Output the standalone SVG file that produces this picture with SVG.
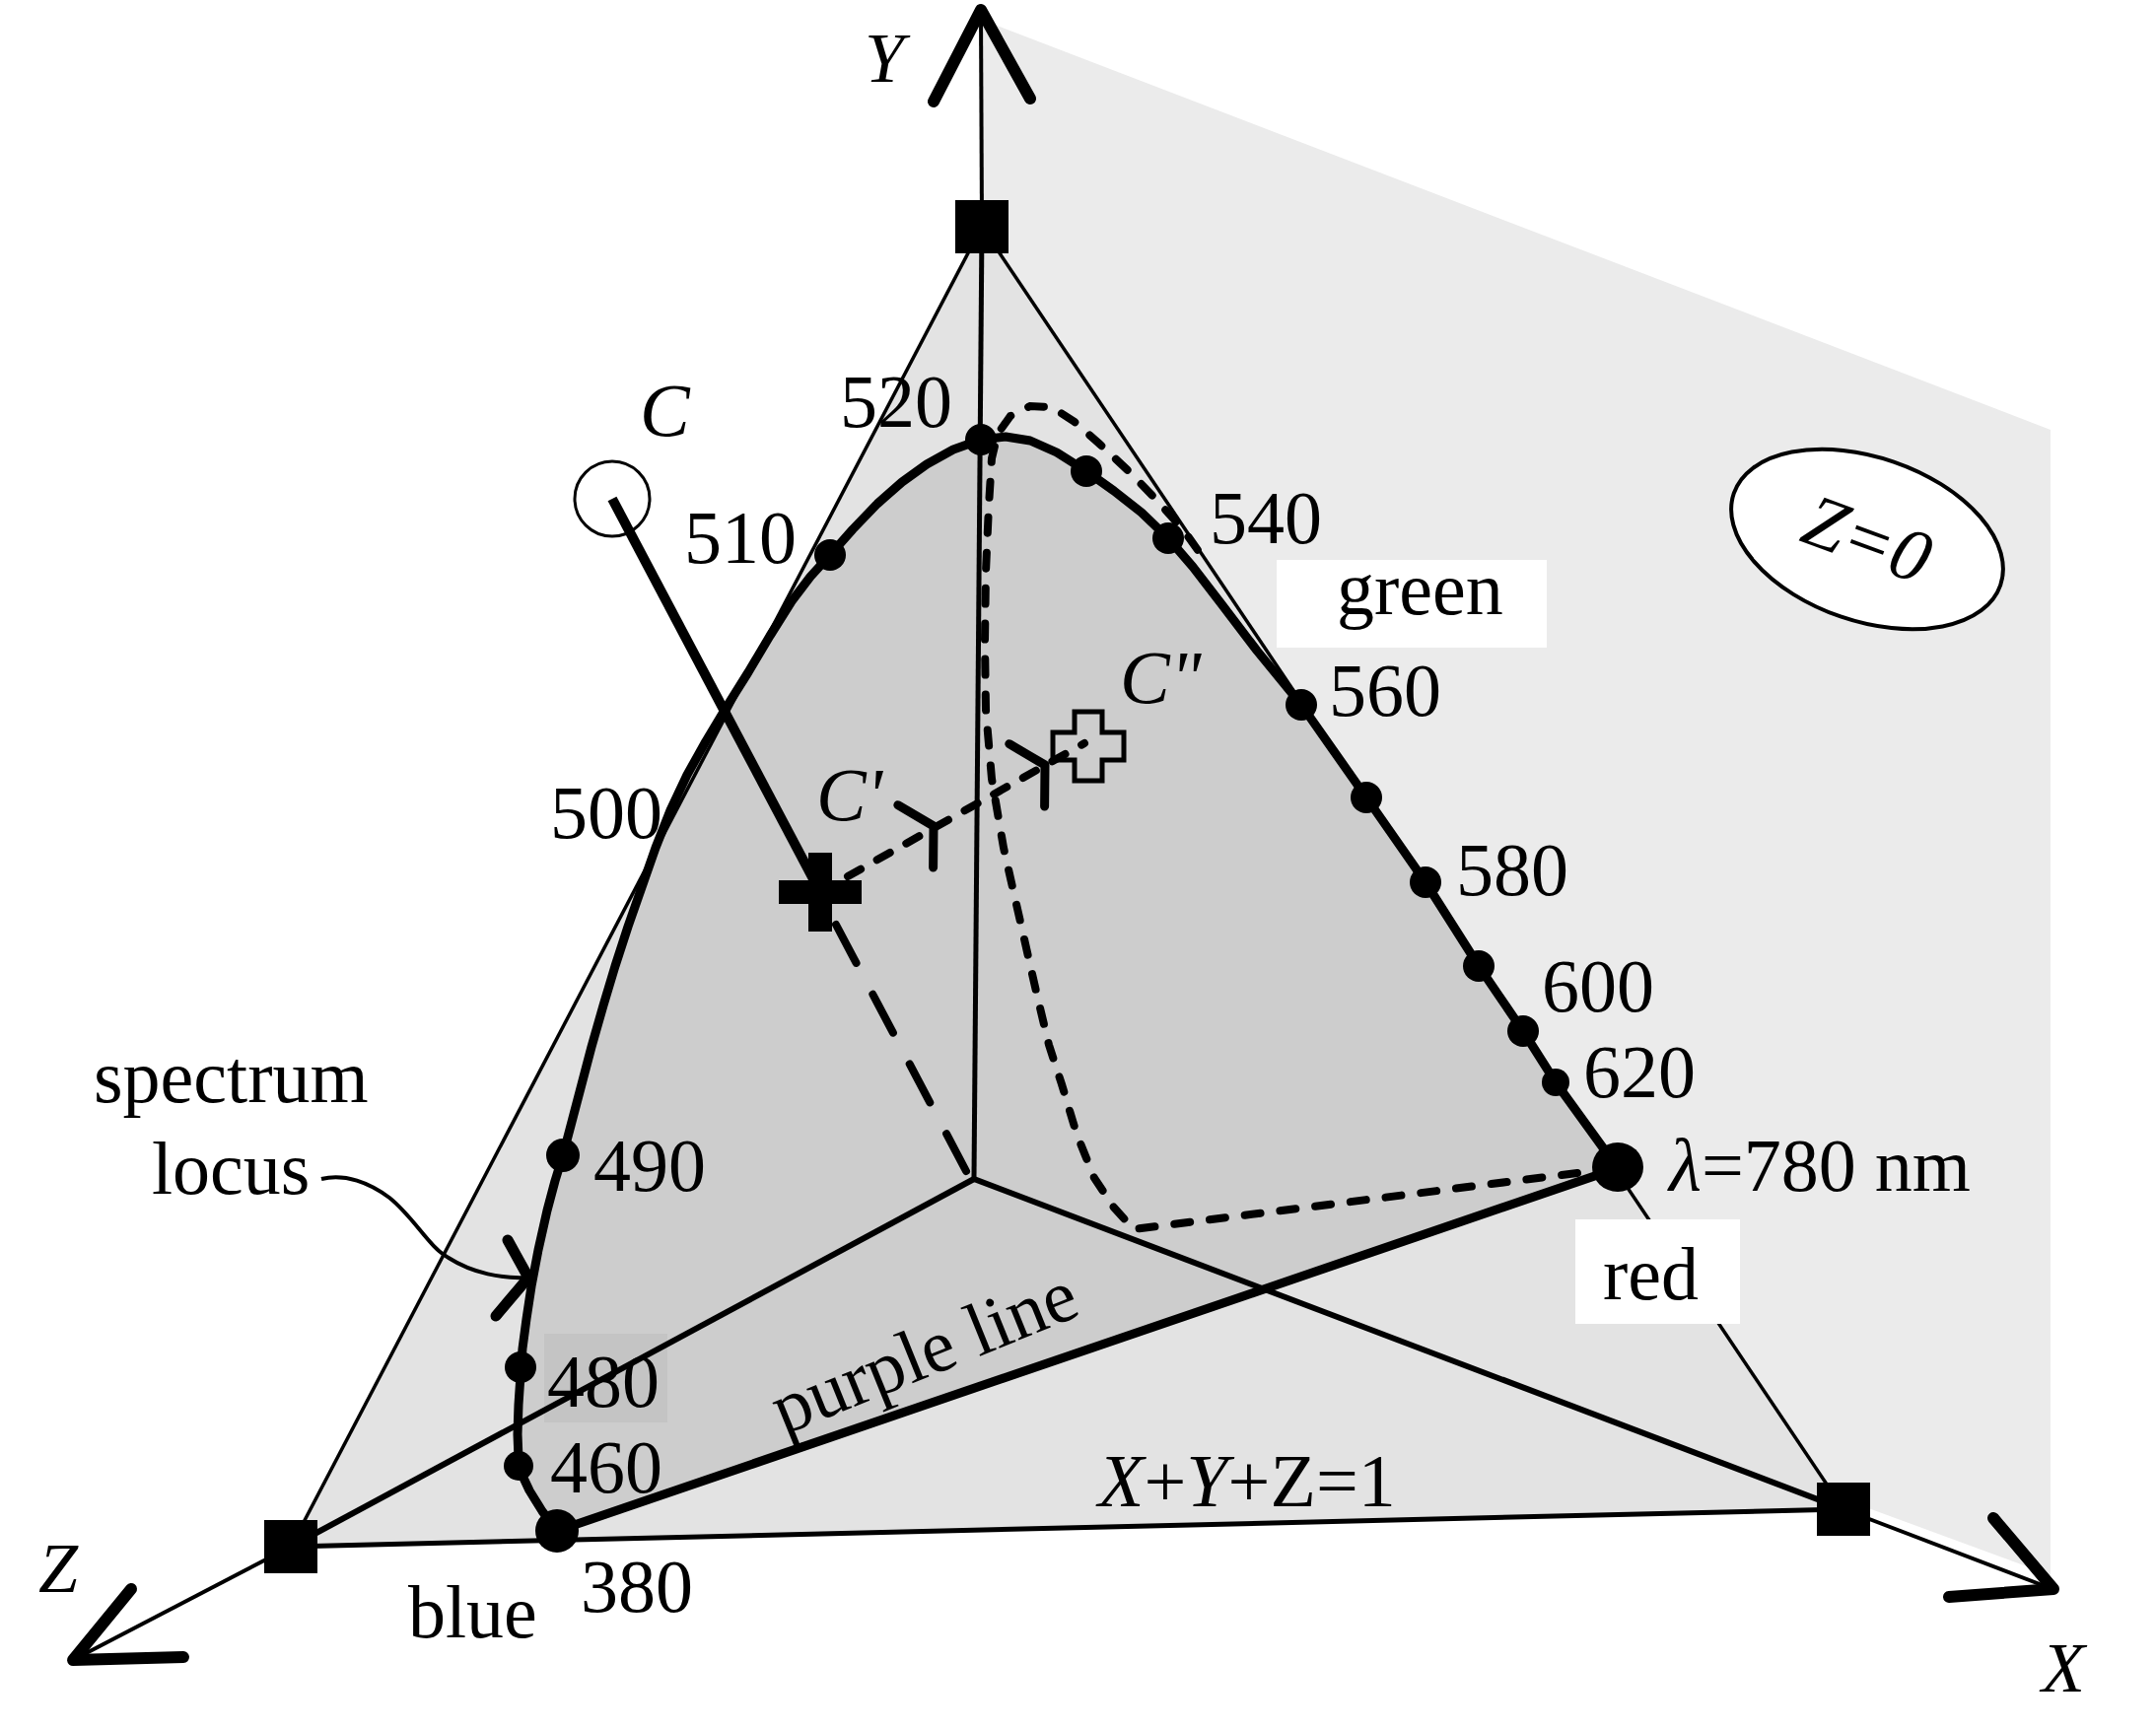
<svg xmlns="http://www.w3.org/2000/svg" width="2187" height="1755" viewBox="0 0 2187 1755">
<defs>
<style>
.t{font-family:"Liberation Serif","Times New Roman",serif;font-size:76px;fill:#000}
.i{font-style:italic}
.edge{stroke:#000;stroke-width:3.5;fill:none}
.axis{stroke:#000;stroke-width:6;fill:none}
.axext{stroke:#000;stroke-width:4;fill:none}
.head{stroke:#000;stroke-width:12;fill:none;stroke-linecap:round;stroke-linejoin:round}
.locus{stroke:#000;stroke-width:9;fill:none;stroke-linejoin:round;stroke-linecap:round}
.dash-s{stroke:#000;stroke-width:8;fill:none;stroke-dasharray:16 20;stroke-linecap:round}
.dash-m{stroke:#000;stroke-width:8;fill:none;stroke-dasharray:15 19;stroke-linecap:round}
.dash-l{stroke:#000;stroke-width:8;fill:none;stroke-dasharray:44 36;stroke-linecap:round}
.chev{stroke:#000;stroke-width:9;fill:none;stroke-linecap:round;stroke-linejoin:round}
.dot{fill:#000}
.sq{fill:#000}
</style>
</defs>
<rect width="2187" height="1755" fill="#fff"/>

<g id="plane-z0">
<polygon points="996,20 2080,436 2080,1598 988,1196" fill="#ebebeb"/>
</g>
<g id="plane-xyz1">
<polygon points="996,230 295,1569 1870,1531" fill="#e3e3e3"/>
</g>
<g id="locus-region">
<path d="M565,1553 L550,1533 537,1512 529,1495 526,1480 525,1455 526,1425 528,1395 530,1368 534,1338 539,1305 546,1268 555,1228 563,1198 571,1172 580,1138 590,1100 600,1062 612,1020 624,980 637,940 651,900 665,860 680,822 697,786 716,752 737,717 759,682 781,645 803,610 822,585 842,563 865,537 890,511 915,489 940,471 967,456 995,446 1020,443 1045,447 1072,459 1102,478 1130,498 1158,520 1185,546 1210,575 1240,614 1275,660 1320,715 1386,809 1446,895 1500,980 1545,1046 1578,1098 1641,1185 Z" fill="#cdcdcd"/>
<rect x="552" y="1353" width="125" height="90" fill="#c4c4c4"/>
</g>

<g id="connectors">
<line class="edge" x1="996" y1="230" x2="295" y2="1569"/>
<line class="edge" x1="996" y1="230" x2="1870" y2="1531"/>
<line class="edge" x1="295" y1="1569" x2="1870" y2="1531" style="stroke-width:5"/>
<line class="axis" x1="988" y1="1196" x2="996" y2="230" style="stroke-width:5"/>
<line class="axext" x1="996" y1="230" x2="995" y2="12"/>
<line class="axis" x1="988" y1="1196" x2="295" y2="1569"/>
<line class="axext" x1="295" y1="1569" x2="76" y2="1683"/>
<line class="axis" x1="988" y1="1196" x2="1870" y2="1531"/>
<line class="axext" x1="1870" y1="1531" x2="2082" y2="1612"/>
<polyline class="head" points="947,103 995,10 1045,100"/>
<polyline class="head" points="133,1612 74,1684 186,1681"/>
<polyline class="head" points="2022,1540 2083,1612 1977,1620"/>

<polyline class="dash-s" points="1600,1190 1150,1247 1130,1225 1110,1195 1092,1150 1077,1100 1064,1060 1052,1010 1035,935 1018,860 1006,790 1000,720 999,650 1000,580 1003,513 1006,465 1012,440 1025,422 1045,412 1067,413 1090,428 1115,450 1145,478 1173,507 1200,537 1220,565"/>

<line class="dash-l" x1="848" y1="938" x2="980" y2="1188"/>
<line x1="621" y1="506" x2="832" y2="905" stroke="#000" stroke-width="10"/>
<line class="dash-m" x1="860" y1="889" x2="1100" y2="754"/>
<polyline class="chev" points="946.6,880 947,838 910.8,816.7"/>
<polyline class="chev" points="1059.6,818 1060,776 1023.8,754.7"/>

<path d="M326,1196 C350,1190 375,1200 395,1215 C420,1235 435,1265 455,1276 C480,1292 510,1297 533,1296" stroke="#000" stroke-width="4" fill="none"/>
<polyline class="head" points="515,1258 536,1296 503,1335" style="stroke-width:11"/>

<polyline class="locus" points="565,1553 550,1533 537,1512 529,1495 526,1480 525,1455 526,1425 528,1395 530,1368 534,1338 539,1305 546,1268 555,1228 563,1198 571,1172 580,1138 590,1100 600,1062 612,1020 624,980 637,940 651,900 665,860 680,822 697,786 716,752 737,717 759,682 781,645 803,610 822,585 842,563 865,537 890,511 915,489 940,471 967,456 995,446 1020,443 1045,447 1072,459 1102,478 1130,498 1158,520 1185,546 1210,575 1240,614 1275,660 1320,715 1386,809 1446,895 1500,980 1545,1046 1578,1098 1641,1185"/>
<line x1="565" y1="1553" x2="1641" y2="1185" stroke="#000" stroke-width="9"/>
</g>

<g id="axis-markers">
<rect class="sq" x="969" y="203" width="54" height="54"/>
<rect class="sq" x="268" y="1542" width="54" height="54"/>
<rect class="sq" x="1843" y="1504" width="54" height="54"/>
</g>

<g id="locus-points">
<circle class="dot" cx="565" cy="1553" r="22"/>
<circle class="dot" cx="526" cy="1487" r="15"/>
<circle class="dot" cx="528" cy="1387" r="16"/>
<circle class="dot" cx="571" cy="1172" r="17"/>
<circle class="dot" cx="842" cy="563" r="16"/>
<circle class="dot" cx="995" cy="446" r="16"/>
<circle class="dot" cx="1102" cy="478" r="16"/>
<circle class="dot" cx="1185" cy="546" r="16"/>
<circle class="dot" cx="1320" cy="715" r="16"/>
<circle class="dot" cx="1386" cy="809" r="16"/>
<circle class="dot" cx="1446" cy="895" r="16"/>
<circle class="dot" cx="1500" cy="980" r="16"/>
<circle class="dot" cx="1545" cy="1046" r="16"/>
<circle class="dot" cx="1578" cy="1098" r="14"/>
<ellipse class="dot" cx="1641" cy="1184" rx="26" ry="25"/>
</g>

<g id="point-C">
<circle cx="621" cy="506" r="38" stroke="#000" stroke-width="3" fill="none"/>
<text class="t i" x="649" y="442">C</text>
</g>
<g id="point-C1">
<rect x="790" y="893" width="84" height="24" fill="#000"/>
<rect x="820" y="865" width="24" height="80" fill="#000"/>
<text class="t i" x="828" y="832">C'</text>
</g>
<g id="point-C2">
<path d="M1090,722 H1118 V743 H1140 V771 H1118 V792 H1090 V771 H1068 V743 H1090 Z" stroke="#000" stroke-width="5" fill="none"/>
<text class="t i" x="1136" y="713">C"</text>
</g>

<g id="z0-label">
<ellipse cx="1894" cy="547" rx="143" ry="83" transform="rotate(19 1894 547)" fill="#fff" stroke="#000" stroke-width="4"/>
<text class="t i" x="1894" y="572" text-anchor="middle" transform="rotate(20 1894 547)">Z=0</text>
</g>

<g id="color-labels">
<rect x="1295" y="568" width="274" height="89" fill="#fff"/>
<text class="t" x="1356" y="623">green</text>
<rect x="1598" y="1237" width="167" height="106" fill="#fff"/>
<text class="t" x="1626" y="1318">red</text>
<text class="t" x="414" y="1661">blue</text>
</g>

<g id="labels">
<text class="t i" x="877" y="83" style="font-size:72px">Y</text>
<text class="t i" x="39" y="1615" style="font-size:72px">Z</text>
<text class="t i" x="2071" y="1716" style="font-size:72px">X</text>
<text class="t" x="852" y="433">520</text>
<text class="t" x="694" y="571">510</text>
<text class="t" x="1227" y="551">540</text>
<text class="t" x="1348" y="726">560</text>
<text class="t" x="558" y="850">500</text>
<text class="t" x="1477" y="908">580</text>
<text class="t" x="1564" y="1026">600</text>
<text class="t" x="1606" y="1113">620</text>
<text class="t" x="602" y="1208">490</text>
<text class="t" x="555" y="1427">480</text>
<text class="t" x="558" y="1514">460</text>
<text class="t" x="589" y="1635">380</text>
<text class="t" x="1693" y="1208"><tspan class="i">λ</tspan>=780 nm</text>
<text class="t" x="95" y="1118">spectrum</text>
<text class="t" x="154" y="1211">locus</text>
<text class="t" x="795" y="1456" transform="rotate(-22 795 1456)">purple line</text>
<text class="t" x="1114" y="1528"><tspan class="i">X</tspan>+<tspan class="i">Y</tspan>+Z=1</text>
</g>
</svg>
